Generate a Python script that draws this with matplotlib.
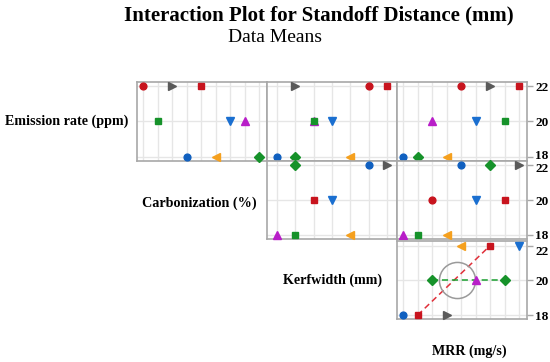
import matplotlib
matplotlib.use("Agg")
import matplotlib.pyplot as plt
from matplotlib.transforms import ScaledTranslation

plt.rcParams['font.family'] = ['Liberation Serif', 'DejaVu Serif']

# series styles (one per marker kind)
colors = ['#c8141e', '#16922a', '#5a5a5a', '#1060c0', '#c8141e', '#f5a01e', '#1a6fd0', '#b81ec8', '#16922a']
markers = ['o', 's', '>', 'o', 's', '<', 'v', '^', 'D']
msizes = [4.9, 5.0, 5.5, 4.9, 5.0, 5.5, 5.5, 5.5, 4.6]

factor_labels = ['Emission rate (ppm)', 'Carbonization (%)', 'Kerfwidth (mm)', 'MRR (mg/s)']
y_ticks = [18, 20, 22]
n_levels = [9, 7, 9]   # number of x levels in columns Carbonization, Kerfwidth, MRR

# row 1: Emission rate
er_carb_s = [0, 1, 2, 3, 4, 5, 6, 7, 8]
er_carb_x = [0, 1, 2, 3, 4, 5, 6, 7, 8]
er_carb_y = [22, 20, 22, 18, 22, 18, 20, 20, 18]

er_kerf_s = [0, 7, 1, 2, 3, 4, 5, 6, 8]
er_kerf_x = [5, 2, 2, 1, 0, 6, 4, 3, 1]
er_kerf_y = [22, 20, 20, 22, 18, 22, 18, 20, 18]

er_mrr_s = [0, 1, 2, 3, 4, 5, 6, 7, 8]
er_mrr_x = [4, 7, 6, 0, 8, 3, 5, 2, 1]
er_mrr_y = [22, 20, 22, 18, 22, 18, 20, 20, 18]

# row 2: Carbonization
cb_kerf_s = [1, 2, 3, 4, 5, 6, 7, 8]
cb_kerf_x = [1, 6, 5, 2, 4, 3, 0, 1]
cb_kerf_y = [18, 22, 22, 20, 18, 20, 18, 22]

cb_mrr_s = [0, 1, 2, 3, 4, 5, 6, 7, 8]
cb_mrr_x = [2, 1, 8, 4, 7, 3, 5, 0, 6]
cb_mrr_y = [20, 18, 22, 22, 20, 18, 20, 18, 22]

# row 3: Kerfwidth
kw_mrr_s = [3, 4, 8, 2, 5, 7, 4, 8, 6]
kw_mrr_x = [0, 1, 2, 3, 4, 5, 6, 7, 8]
kw_mrr_y = [18, 18, 20, 18, 22, 20, 22, 20, 22]
kw_linked = [4, 8]      # series joined by dashed lines
kw_circle = (3.7, 20.05)

panels = [
    (0, 0, er_carb_s, er_carb_x, er_carb_y),
    (0, 1, er_kerf_s, er_kerf_x, er_kerf_y),
    (0, 2, er_mrr_s, er_mrr_x, er_mrr_y),
    (1, 1, cb_kerf_s, cb_kerf_x, cb_kerf_y),
    (1, 2, cb_mrr_s, cb_mrr_x, cb_mrr_y),
    (2, 2, kw_mrr_s, kw_mrr_x, kw_mrr_y),
]

W, H = 550, 362
fig = plt.figure(figsize=(5.5, 3.62), dpi=100)

col_left = [137, 267, 397]
col_w = 130
row_top = [81.5, 160.5, 241.0]
row_h = [79, 78.5, 78]

axes = {}
for r, c, s, x, y in panels:
    ax = fig.add_axes([col_left[c] / W, 1 - (row_top[r] + row_h[r]) / H, col_w / W, row_h[r] / H])
    axes[(r, c)] = ax
    n = n_levels[c]
    ax.set_xlim(-0.42 if n == 9 else -0.55, n - 1 + 0.55)
    ax.set_ylim(17.78, 22.27)
    ax.set_xticks(range(n))
    ax.set_yticks(y_ticks)
    ax.grid(True, color='#e6e6e6', lw=1.0, zorder=0)
    ax.set_axisbelow(True)
    for sp in ax.spines.values():
        sp.set_color('#a8a8a8')
        sp.set_linewidth(1.2)
    ax.tick_params(axis='x', length=0, labelbottom=False)
    if c == 2:
        ax.yaxis.tick_right()
        ax.tick_params(axis='y', length=4, width=1, color='#a8a8a8', pad=2, labelsize=9.5)
        for lab in ax.get_yticklabels():
            lab.set_fontweight('bold')
    else:
        ax.tick_params(axis='y', length=0, labelleft=False)
    for si, xi, yi in zip(s, x, y):
        ax.plot(xi, yi, marker=markers[si], color=colors[si], ms=msizes[si],
                ls='none', mec=colors[si], zorder=3, clip_on=False)

# dashed lines and circle in the Kerfwidth x MRR panel
ax = axes[(2, 2)]
line_colors = {4: '#e0303a', 8: '#1aa030'}
for si in kw_linked:
    pts = [(xi, yi) for s_, xi, yi in zip(kw_mrr_s, kw_mrr_x, kw_mrr_y) if s_ == si]
    ax.plot([p[0] for p in pts], [p[1] for p in pts], ls=(0, (4, 2.5)), lw=1.1,
            color=line_colors[si], zorder=2)
ax.plot(*kw_circle, marker='o', ms=26, mfc='none', mec='#9a9a9a', mew=1.1, zorder=2)

# nudge the stacked 18 / 22 labels apart where rows meet
def nudge(label, dy_px):
    label.set_transform(label.get_transform() + ScaledTranslation(0, dy_px / 100, fig.dpi_scale_trans))

nudge(axes[(0, 2)].get_yticklabels()[0], 2)
nudge(axes[(1, 2)].get_yticklabels()[2], -2)
nudge(axes[(1, 2)].get_yticklabels()[0], 1)
axes[(2, 2)].get_yticklabels()[2].set_va('top')

# titles
fig.text(318.5 / W, 1 - 15 / H, 'Interaction Plot for Standoff Distance (mm)',
         ha='center', va='center', fontsize=15, fontweight='bold')
fig.text(275.5 / W, 1 - 37 / H, 'Data Means', ha='center', va='center', fontsize=14)

# factor labels on the diagonal
label_pos = [(67, 121), (199, 203), (333, 280), (469.5, 351)]
for txt, (px, py) in zip(factor_labels, label_pos):
    fig.text(px / W, 1 - py / H, txt, ha='center', va='center', fontsize=10.2, fontweight='bold')

fig.savefig('out.png', dpi=100)
